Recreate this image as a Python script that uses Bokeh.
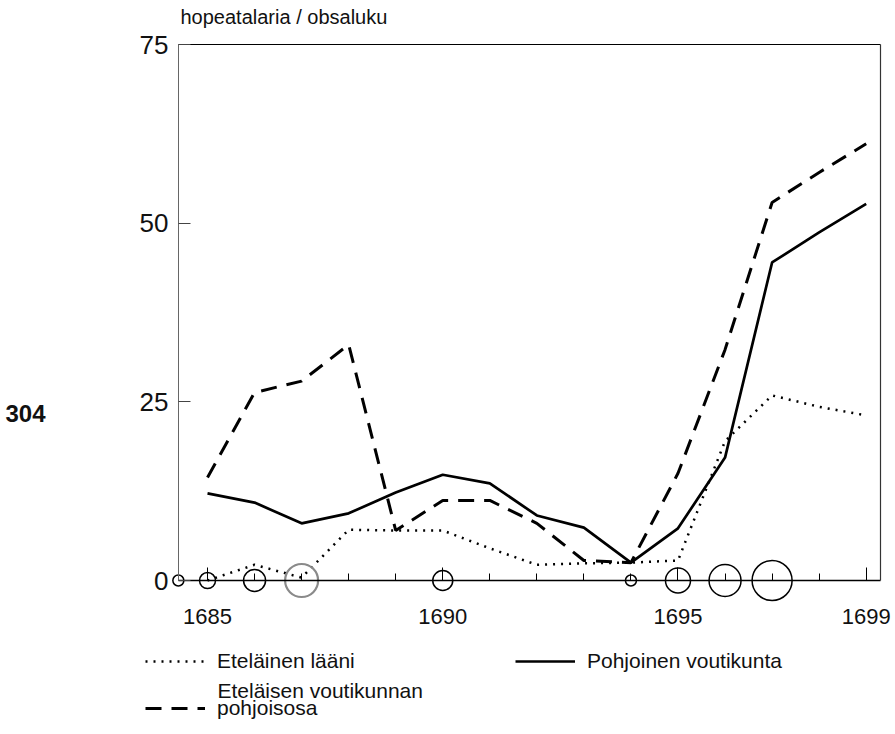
from bokeh.plotting import figure
from bokeh.models import Range1d, FixedTicker, LinearAxis, Legend, LegendItem, Label
from bokeh.embed import file_html
from bokeh.resources import INLINE

# ---- data ----
years = [1685, 1686, 1687, 1688, 1689, 1690, 1691, 1692, 1693, 1694, 1695, 1696, 1697, 1698, 1699]
etelainen_laani = [0.0, 2.2, 0.4, 7.1, 7.0, 7.0, 4.5, 2.2, 2.4, 2.5, 2.8, 19.5, 25.9, 24.3, 23.1]
etelaisen_pohjoisosa = [14.4, 26.3, 27.9, 33.0, 7.0, 11.2, 11.2, 8.0, 2.8, 2.5, 15.0, 32.3, 52.9, 57.1, 61.1]
pohjoinen_voutikunta = [12.2, 10.9, 8.0, 9.4, 12.3, 14.8, 13.6, 9.1, 7.4, 2.5, 7.3, 17.2, 44.5, 48.7, 52.7]

circle_years = [1684.38, 1685, 1686, 1687, 1690, 1694, 1695, 1696, 1697]
circle_base = [0, 0, 0, 0, 0, 0, 0, 0, 0]
circle_sizes = [11, 16, 22, 33, 20, 11, 25, 32, 40]
circle_grey = [False, False, False, True, False, False, False, False, False]

x_labels = [1685, 1690, 1695, 1699]
y_labels = [0, 25, 50, 75]

title_text = "hopeatalaria / obsaluku"
page_number = "304"
legend_labels = ["Eteläinen lääni", "Pohjoinen voutikunta", "Eteläisen voutikunnan", "pohjoisosa"]

FONT = "Liberation Sans"
X0, X1 = 1684.38, 1699.30   # extent of the boxed plot area
Y0, Y1 = 0, 75
W, H = 895, 734

# the frame covers the whole page; axes are pinned with fixed_location
p = figure(width=W, height=H,
           x_range=Range1d(1680.600, 1699.623), y_range=Range1d(-21.548, 81.157),
           output_backend="svg", toolbar_location=None,
           x_axis_location=None, y_axis_location=None,
           min_border=0, min_border_left=0, min_border_right=0,
           min_border_top=0, min_border_bottom=0)
p.grid.visible = False
p.outline_line_color = None
p.background_fill_color = "white"
p.border_fill_color = "white"

# x axis at y = 0
xa = LinearAxis(fixed_location=Y0, bounds=(X0, X1),
                ticker=FixedTicker(ticks=x_labels, minor_ticks=years),
                major_tick_in=13, major_tick_out=0, minor_tick_in=7, minor_tick_out=0,
                axis_line_color="black", axis_line_width=1.3,
                major_tick_line_color="black", minor_tick_line_color="black",
                major_label_standoff=28, major_label_text_font=FONT,
                major_label_text_font_size="22px", major_label_text_color="#111111")
p.add_layout(xa, "below")

# y axis
ya = LinearAxis(fixed_location=X0, bounds=(Y0, Y1),
                ticker=FixedTicker(ticks=y_labels),
                major_tick_in=12, major_tick_out=0, minor_tick_line_color=None,
                axis_line_color="#666666", major_tick_line_color="#444444",
                major_label_standoff=10, major_label_text_font=FONT,
                major_label_text_font_size="26px", major_label_text_color="#111111")
p.add_layout(ya, "left")

# box: right and top borders
ra = LinearAxis(fixed_location=X1, ticker=FixedTicker(ticks=[]), bounds=(Y0, Y1),
                major_tick_out=0, major_tick_in=0, major_label_standoff=0,
                axis_line_color="#333333", axis_line_width=1.2)
p.add_layout(ra, "right")
ta = LinearAxis(fixed_location=Y1, ticker=FixedTicker(ticks=[]), bounds=(X0, X1),
                major_tick_out=0, major_tick_in=0, major_label_standoff=0,
                axis_line_color="black", axis_line_width=1.2)
p.add_layout(ta, "above")

# lines
r_dot = p.line(years, etelainen_laani, line_color="black", line_width=2.5, line_dash="2 6")
r_solid = p.line(years, pohjoinen_voutikunta, line_color="black", line_width=2.7)
r_dash = p.line(years, etelaisen_pohjoisosa, line_color="black", line_width=3, line_dash="16 10")

# circles on the axis
colors = ["#8a8a8a" if g else "black" for g in circle_grey]
widths = [2.2 if g else 1.5 for g in circle_grey]
p.scatter(circle_years, circle_base, size=circle_sizes, marker="circle",
          fill_color=None, line_color=colors, line_width=widths)

def make_legend(item, loc):
    lg = Legend(items=[item], location=loc, orientation="vertical",
                background_fill_alpha=0, border_line_color=None,
                padding=0, margin=0, spacing=0,
                glyph_width=60, glyph_height=20, label_standoff=12,
                label_height=20,
                label_text_font=FONT, label_text_font_size="21px",
                label_text_color="#111111")
    p.add_layout(lg)
    return lg

make_legend(LegendItem(label=legend_labels[0], renderers=[r_dot]), (145, 61))
make_legend(LegendItem(label=legend_labels[1], renderers=[r_solid]), (515, 61))
make_legend(LegendItem(label=legend_labels[3], renderers=[r_dash]), (145, 14))
# first line of the two-line legend entry
p.add_layout(Label(x=217, y=H - 690, x_units="screen", y_units="screen",
                   text=legend_labels[2], text_font=FONT, text_font_size="21px",
                   text_baseline="middle", text_color="#111111"))

# title above the y axis, page number at the left edge
p.add_layout(Label(x=180, y=H - 16, x_units="screen", y_units="screen",
                   text=title_text, text_font=FONT, text_font_size="20px",
                   text_baseline="middle", text_color="#111111"))
p.add_layout(Label(x=5, y=H - 413, x_units="screen", y_units="screen",
                   text=page_number, text_font=FONT, text_font_style="bold",
                   text_font_size="24px", text_baseline="middle", text_color="#111111"))

open("out.html", "w").write(file_html(p, INLINE))
